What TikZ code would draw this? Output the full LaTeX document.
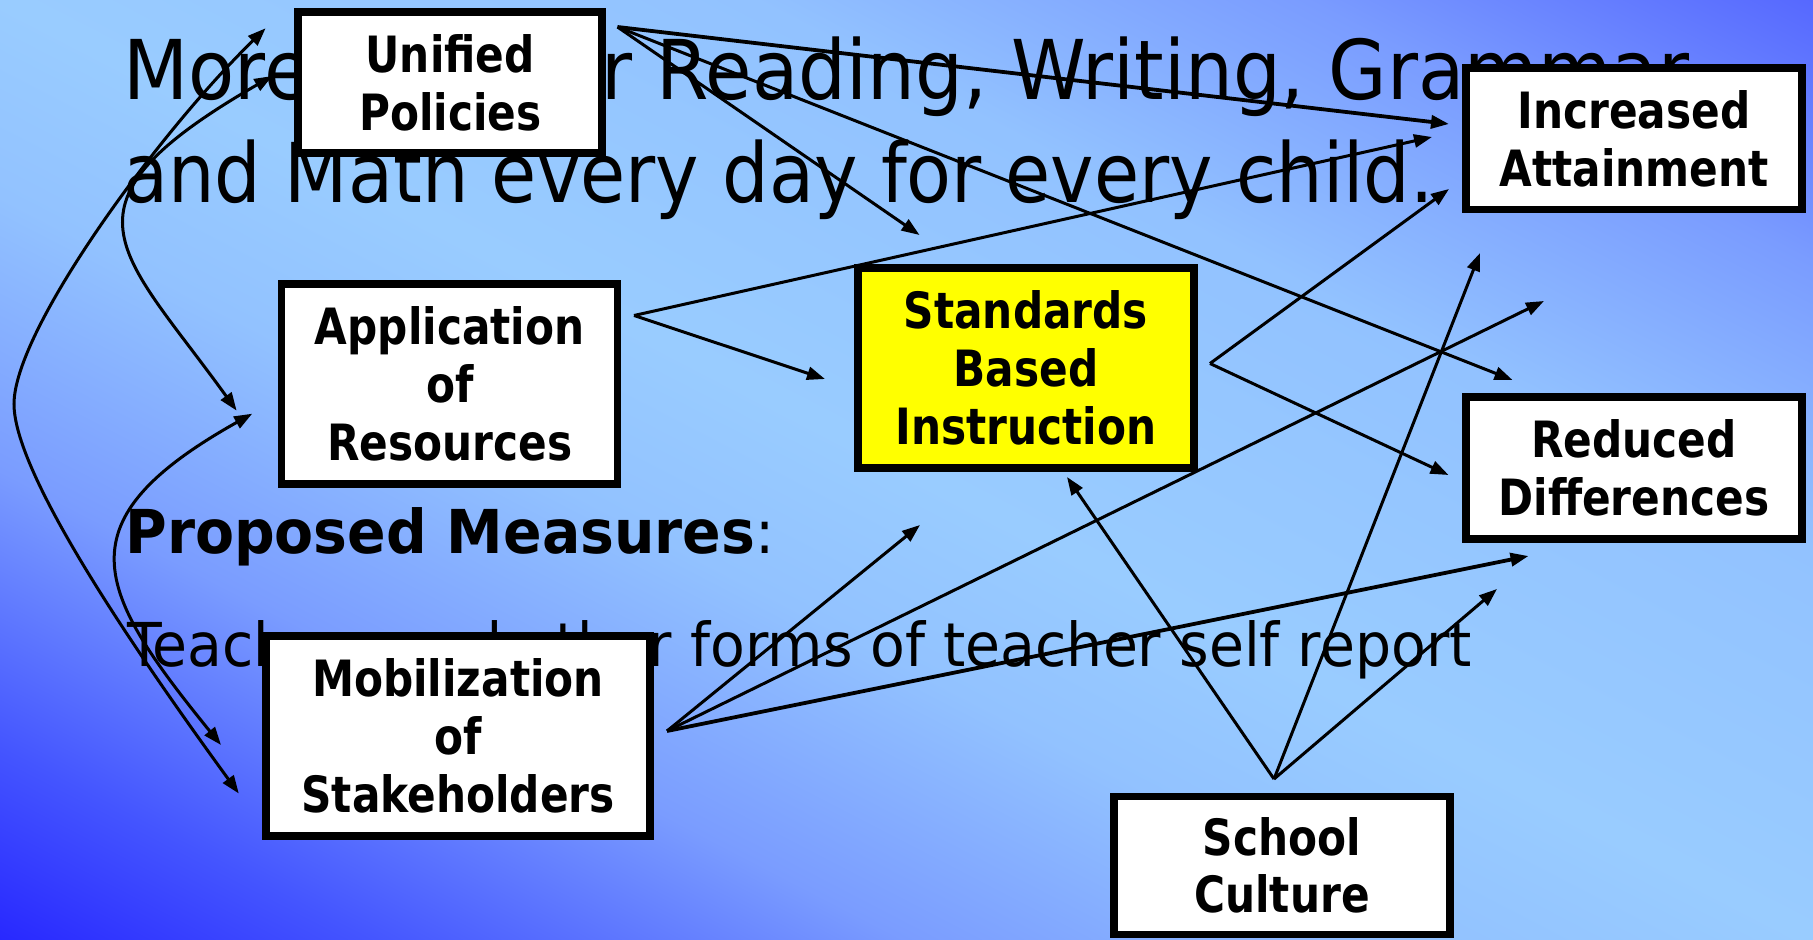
\documentclass[tikz,border=0pt]{standalone}
\usepackage{fontspec}
\usetikzlibrary{arrows.meta}
\newfontfamily\titlefont[FakeStretch=0.915]{DejaVu Sans}
\newfontfamily\titlefontb[FakeStretch=0.89]{DejaVu Sans}
\newfontfamily\bodyfont[FakeStretch=0.94]{DejaVu Sans}
\newfontfamily\boxfont[FakeStretch=0.845]{DejaVu Sans}
\definecolor{bgA}{HTML}{2828FF}
\definecolor{bgB}{HTML}{4455FF}
\definecolor{bgC}{HTML}{7A9CFF}
\definecolor{bgD}{HTML}{92C2FF}
\definecolor{bgE}{HTML}{99CCFF}
\definecolor{bgF}{HTML}{92C2FF}
\definecolor{bgG}{HTML}{7A9CFF}
\definecolor{bgH}{HTML}{5668FF}
\definecolor{boxyellow}{HTML}{FFFF00}
\pgfdeclarehorizontalshading{bgshade}{100bp}{color(0bp)=(bgA); color(25bp)=(bgA); color(30.1bp)=(bgB); color(37.5bp)=(bgC); color(44.8bp)=(bgD); color(50bp)=(bgE); color(60.4bp)=(bgF); color(68bp)=(bgG); color(75bp)=(bgH); color(100bp)=(bgH)}
\tikzset{
  box/.style={draw=black, line width=3.75pt, fill=white, inner sep=0pt, align=center,
    font={\boxfont\bfseries\fontsize{25}{28.9}\selectfont}},
  arr/.style={line width=1.5pt, -{Triangle[length=9pt,width=6.5pt]}},
  thickarr/.style={line width=1.9pt, -{Triangle[length=9pt,width=6.5pt]}},
  darr/.style={line width=1.5pt, {Triangle[length=9pt,width=6.5pt]}-{Triangle[length=9pt,width=6.5pt]}},
  txt/.style={anchor=base west, inner sep=0pt}
}
\begin{document}
\begin{tikzpicture}[x=0.5pt,y=-0.5pt]
\useasboundingbox (0,0) rectangle (1813,940);
% background
\begin{scope}
  \clip (0,0) rectangle (1813,940);
  \begin{scope}[transform canvas={rotate around={62.6:(906.5,470)}}]
    \shade[shading=bgshade] (72,-700) rectangle (1741,1640);
  \end{scope}
\end{scope}
% slide text
\node[txt, font={\titlefont\fontsize{41.25}{51.5}\selectfont}] (title1) at (123,100) {More time for Reading, Writing, Grammar};
\node[txt, font={\titlefontb\fontsize{41.25}{51.5}\selectfont}] (title2) at (123,203) {and Math every day for every child.};
\node[txt, font={\bodyfont\fontsize{30.25}{36}\selectfont}] (measures) at (125,553.7) {\textbf{Proposed Measures}:};
\node[txt, font={\bodyfont\fontsize{30.25}{36}\selectfont}] (teachers) at (127,666) {Teachers and other forms of teacher self report};
% boxes
\node[box, minimum width=152pt, minimum height=70.5pt] (unified) at (450.2,82.5) {Unified\\Policies};
\node[box, minimum width=168pt, minimum height=70.8pt] (incr) at (1634,138.7) {Increased\\Attainment};
\node[box, minimum width=168pt, minimum height=100pt] (appl) at (449.7,383.8) {Application\\of\\Resources};
\node[box, fill=boxyellow, minimum width=168pt, minimum height=100pt] (std) at (1025.9,367.9) {Standards\\Based\\Instruction};
\node[box, minimum width=168pt, minimum height=71pt] (red) at (1633.9,467.8) {Reduced\\Differences};
\node[box, minimum width=192pt, minimum height=100pt] (mob) at (458,735.9) {Mobilization\\of\\Stakeholders};
\node[box, minimum width=168pt, minimum height=69pt] (school) at (1282,865.3) {School\\Culture};
% connector end points
\coordinate (uS) at (617.5,27);
\coordinate (uE1) at (1449,124);
\coordinate (uE2) at (919.5,235);
\coordinate (uE3) at (1512.5,380);
\coordinate (aS) at (634,315.5);
\coordinate (aE1) at (825,379);
\coordinate (aE2) at (1432,137);
\coordinate (sS) at (1210,363.5);
\coordinate (sE1) at (1449,189);
\coordinate (sE2) at (1448.5,475);
\coordinate (mS) at (667,731);
\coordinate (mE1) at (920,525);
\coordinate (mE2) at (1544,301);
\coordinate (mE3) at (1528.5,556);
\coordinate (cS) at (1274,779);
\coordinate (cE1) at (1067,477);
\coordinate (cE2) at (1480,253);
\coordinate (cE3) at (1497,589);
\coordinate (L1a) at (265.6,28.3);
\coordinate (L1b) at (238.8,793.5);
\coordinate (L2a) at (272.3,76);
\coordinate (L2b) at (236.6,410.6);
\coordinate (L3a) at (252.2,413.7);
\coordinate (L3b) at (221,745);
% straight connectors
\draw[thickarr] (uS) -- (uE1);
\draw[arr] (uS) -- (uE2);
\draw[arr] (uS) -- (uE3);
\draw[arr] (aS) -- (aE1);
\draw[arr] (aS) -- (aE2);
\draw[arr] (sS) -- (sE1);
\draw[arr] (sS) -- (sE2);
\draw[arr] (mS) -- (mE1);
\draw[arr] (mS) -- (mE2);
\draw[thickarr] (mS) -- (mE3);
\draw[arr] (cS) -- (cE1);
\draw[arr] (cS) -- (cE2);
\draw[arr] (cS) -- (cE3);
% curved connectors on the left
\draw[darr] (L1b) .. controls (120.8,631.5) and (14,470) .. (14,404) .. controls (14,330) and (158.2,133) .. (L1a);
\draw[darr] (L2a) .. controls (47.1,206) and (119.6,248.4) .. (L2b);
\draw[darr] (L3a) .. controls (60.4,521.3) and (95,589.6) .. (L3b);
\end{tikzpicture}
\end{document}
